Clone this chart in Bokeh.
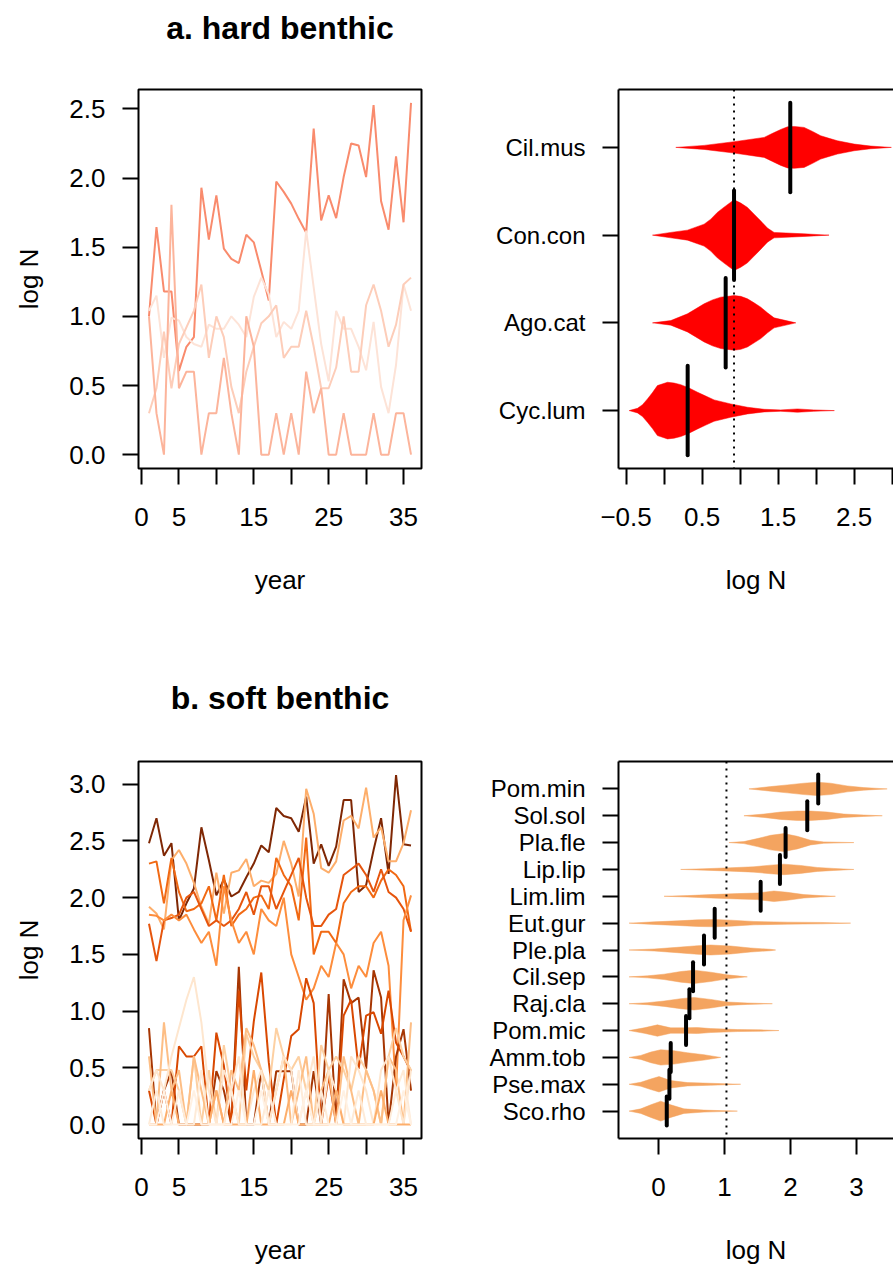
from bokeh.plotting import figure
from bokeh.layouts import column, row
from bokeh.models import FixedTicker, Range1d, LinearAxis, Span
from bokeh.embed import file_html
from bokeh.resources import INLINE

FONT = "Liberation Sans"

# ---------------- data: hard benthic time series ----------------
years = list(range(1, 37))
hard_names = ["Cil.mus", "Con.con", "Ago.cat", "Cyc.lum"]
hard_colors = ["#F98B6D", "#FDE3D7", "#FDCDB9", "#FCB49B"]
hard_cilmus = [1.0, 1.645, 1.18, 1.18, 0.606, 0.78, 0.85, 1.93, 1.555, 1.875, 1.49, 1.415,
               1.385, 1.59, 1.535, 1.33, 1.115, 1.975, 1.9, 1.815, 1.705, 1.605, 2.357, 1.693,
               1.875, 1.71, 2.007, 2.25, 2.235, 2.007, 2.527, 1.833, 1.626, 2.157, 1.68, 2.543]
hard_concon = [1.04, 1.15, 0.70, 0.99, 0.97, 0.85, 0.80, 0.78, 0.94, 0.91, 0.91, 1.0,
               0.94, 0.85, 1.14, 1.28, 1.16, 0.85, 0.96, 0.91, 1.04, 1.62, 1.21, 0.80,
               0.53, 1.04, 0.91, 0.91, 0.78, 0.61, 0.96, 0.49, 0.30, 0.65, 1.23, 1.04]
hard_agocat = [0.30, 0.48, 0.89, 0.48, 0.80, 0.92, 1.04, 1.23, 0.70, 1.0, 0.85, 0.49,
               0.30, 0.60, 0.78, 0.95, 1.0, 1.08, 0.70, 0.78, 0.78, 1.04, 0.78, 0.48,
               0.48, 0.63, 1.0, 0.60, 0.60, 1.08, 1.23, 1.04, 0.78, 0.94, 1.23, 1.28]
hard_cyclum = [1.0, 0.30, 0.0, 1.806, 0.48, 0.60, 0.60, 0.0, 0.30, 0.30, 0.70, 0.30,
               0.0, 1.0, 0.78, 0.0, 0.0, 0.30, 0.0, 0.30, 0.0, 0.60, 0.30, 0.48,
               0.0, 0.0, 0.30, 0.0, 0.0, 0.0, 0.30, 0.0, 0.0, 0.30, 0.30, 0.0]
hard_series = [hard_cilmus, hard_concon, hard_agocat, hard_cyclum]

# ---------------- data: soft benthic time series ----------------
soft_names = ["Pom.min", "Sol.sol", "Pla.fle", "Lip.lip", "Lim.lim", "Eut.gur", "Ple.pla",
              "Cil.sep", "Raj.cla", "Pom.mic", "Amm.tob", "Pse.max", "Sco.rho"]
soft_colors = ["#7F2704", "#FDAE6B", "#F16913", "#E6550D", "#FD8D3C", "#A63603", "#D94801",
               "#FDD0A2", "#FDBE85", "#FEE6CE", "#FDAE6B", "#FEEBD8", "#FFF1E3"]
soft_pommin = [2.48, 2.70, 2.37, 2.48, 1.80, 1.95, 2.08, 2.62, 2.33, 2.02, 2.16, 2.01,
               2.05, 2.18, 2.30, 2.46, 2.40, 2.79, 2.72, 2.70, 2.58, 2.89, 2.30, 2.47,
               2.28, 2.45, 2.86, 2.86, 2.05, 2.11, 2.42, 2.70, 2.21, 3.08, 2.47, 2.46]
soft_solsol = [1.92, 1.86, 1.72, 2.33, 2.42, 2.30, 2.13, 1.92, 1.77, 2.22, 1.86, 2.22,
               2.24, 2.34, 2.10, 2.15, 2.13, 2.21, 2.50, 2.30, 2.01, 2.96, 2.74, 2.26,
               2.22, 2.32, 2.68, 2.72, 2.61, 2.97, 2.53, 2.62, 2.32, 2.32, 2.48, 2.77]
soft_plafle = [2.30, 2.32, 1.95, 2.35, 2.05, 1.88, 1.90, 1.95, 2.10, 1.80, 2.20, 1.75,
               1.85, 1.90, 2.00, 2.02, 1.90, 2.35, 2.20, 2.10, 1.80, 2.53, 1.50, 1.70,
               1.70, 1.60, 1.95, 2.05, 2.10, 2.10, 2.00, 2.15, 2.25, 2.20, 2.10, 1.70]
soft_liplip = [1.77, 1.44, 1.80, 1.82, 1.85, 2.00, 2.05, 1.90, 1.75, 1.80, 1.75, 1.80,
               1.90, 2.05, 1.85, 2.10, 2.10, 1.90, 2.05, 2.20, 2.35, 2.00, 1.75, 1.75,
               1.85, 1.90, 2.20, 2.25, 2.30, 2.20, 2.05, 2.25, 2.05, 2.00, 1.90, 1.70]
soft_limlim = [1.85, 1.84, 1.80, 1.85, 1.80, 1.85, 1.72, 1.60, 1.70, 1.40, 2.10, 1.80,
               1.60, 1.70, 1.50, 1.90, 1.80, 1.75, 2.00, 1.50, 1.30, 1.10, 1.20, 1.40,
               1.30, 1.60, 1.50, 1.20, 1.40, 1.30, 1.60, 1.70, 1.40, 0.30, 1.80, 2.02]
soft_eutgur = [0.85, 0.0, 0.30, 0.47, 0.0, 0.0, 0.0, 0.0, 0.0, 0.47, 0.30, 0.0,
               1.39, 0.0, 0.0, 0.47, 0.0, 0.47, 0.47, 0.47, 0.0, 0.0, 0.47, 0.0,
               1.15, 0.0, 1.28, 1.07, 1.12, 0.49, 1.36, 1.12, 0.0, 0.60, 0.84, 0.30]
soft_plepla = [0.30, 0.0, 0.30, 0.0, 0.69, 0.60, 0.60, 0.69, 0.0, 0.81, 0.52, 0.0,
               1.18, 0.30, 0.91, 1.34, 0.55, 0.0, 0.40, 0.78, 0.84, 1.29, 1.07, 0.0,
               0.43, 0.0, 0.96, 1.10, 0.49, 0.96, 0.99, 0.80, 1.18, 0.72, 0.60, 0.47]
soft_cilsep = [0.30, 0.48, 0.48, 0.48, 0.30, 0.0, 0.60, 0.0, 0.48, 0.0, 0.70, 0.30,
               0.0, 0.80, 0.60, 0.48, 0.30, 0.85, 0.60, 0.48, 0.60, 0.30, 0.0, 0.70,
               0.48, 0.60, 0.48, 0.30, 0.60, 0.48, 0.30, 0.0, 0.60, 0.85, 0.60, 0.48]
soft_rajcla = [0.60, 0.0, 0.90, 0.30, 0.48, 0.0, 0.60, 0.30, 0.0, 0.30, 0.0, 0.48,
               0.30, 0.85, 0.70, 0.48, 0.0, 0.30, 0.60, 0.0, 0.30, 0.60, 0.0, 0.30,
               0.48, 0.0, 0.60, 0.30, 0.0, 0.48, 0.30, 0.0, 0.60, 0.48, 0.0, 0.90]
soft_pommic = [0.30, 0.48, 0.30, 0.60, 0.85, 1.10, 1.30, 0.90, 0.30, 0.0, 0.48, 0.30,
               0.60, 0.0, 0.30, 0.48, 0.0, 0.30, 0.60, 0.48, 0.0, 0.30, 0.60, 0.0,
               0.48, 0.30, 0.0, 0.60, 0.48, 0.30, 0.0, 0.48, 0.60, 0.30, 0.0, 0.48]
soft_ammtob = [0.0, 0.0, 0.0, 0.30, 0.0, 0.0, 0.0, 0.0, 0.0, 0.30, 0.0, 0.0,
               0.0, 0.0, 0.48, 0.0, 0.0, 0.0, 0.0, 0.30, 0.0, 0.0, 0.0, 0.0,
               0.0, 0.30, 0.0, 0.0, 0.0, 0.0, 0.0, 0.30, 0.0, 0.0, 0.0, 0.0]
soft_psemax = [0.0, 0.30, 0.0, 0.0, 0.30, 0.0, 0.0, 0.48, 0.0, 0.0, 0.0, 0.30,
               0.0, 0.0, 0.0, 0.0, 0.30, 0.0, 0.0, 0.0, 0.48, 0.0, 0.0, 0.30,
               0.0, 0.0, 0.0, 0.0, 0.30, 0.0, 0.0, 0.0, 0.0, 0.30, 0.48, 0.0]
soft_scorho = [0.0, 0.0, 0.30, 0.0, 0.0, 0.0, 0.30, 0.0, 0.0, 0.0, 0.0, 0.0,
               0.30, 0.0, 0.0, 0.30, 0.0, 0.0, 0.0, 0.0, 0.0, 0.30, 0.0, 0.0,
               0.0, 0.0, 0.30, 0.0, 0.0, 0.0, 0.0, 0.0, 0.0, 0.0, 0.30, 0.0]
soft_series = [soft_pommin, soft_solsol, soft_plafle, soft_liplip, soft_limlim, soft_eutgur,
               soft_plepla, soft_cilsep, soft_rajcla, soft_pommic, soft_ammtob, soft_psemax,
               soft_scorho]

# ---------------- data: violins (x along log N, half-width in row units) ----------------
hard_medians = [1.66, 0.92, 0.81, 0.31]
hard_ref_line = 0.92
hard_vx = [
    [0.154, 0.526, 0.921, 1.316, 1.426, 1.535, 1.624, 1.711, 1.842, 1.953, 2.06, 2.171,
     2.28, 2.50, 2.72, 2.99],
    [-0.153, 0.088, 0.307, 0.526, 0.614, 0.70, 0.789, 0.92, 1.009, 1.097, 1.184, 1.27,
     1.36, 1.447, 1.84, 2.17],
    [-0.153, 0.088, 0.307, 0.417, 0.526, 0.636, 0.746, 0.921, 1.009, 1.097, 1.184, 1.272,
     1.36, 1.447, 1.733],
    [-0.46, -0.35, -0.284, -0.219, -0.153, -0.088, 0.045, 0.132, 0.219, 0.329, 0.44, 0.549,
     0.658, 0.877, 1.097, 1.316, 1.535, 1.755, 1.97, 2.24],
]
hard_vw = [
    [0, 0.023, 0.065, 0.114, 0.16, 0.205, 0.234, 0.239, 0.228, 0.182, 0.133, 0.103,
     0.076, 0.038, 0.015, 0],
    [0, 0.031, 0.057, 0.125, 0.182, 0.259, 0.319, 0.403, 0.365, 0.316, 0.239, 0.163,
     0.08, 0.031, 0.015, 0],
    [0, 0.026, 0.103, 0.16, 0.217, 0.262, 0.293, 0.311, 0.302, 0.274, 0.228, 0.179,
     0.114, 0.057, 0],
    [0, 0.026, 0.068, 0.133, 0.205, 0.285, 0.323, 0.314, 0.296, 0.257, 0.209, 0.165,
     0.122, 0.076, 0.038, 0.015, 0.008, 0.019, 0.008, 0],
]

soft_medians = [2.42, 2.254, 1.926, 1.84, 1.548, 0.852, 0.69, 0.524, 0.469, 0.418,
                0.186, 0.166, 0.126]
soft_ref_line = 1.03
soft_vx = [
    [1.371, 1.699, 1.951, 2.203, 2.405, 2.607, 2.859, 3.11, 3.464],
    [1.295, 1.598, 1.85, 2.103, 2.304, 2.557, 2.808, 3.11, 3.39],
    [1.068, 1.295, 1.497, 1.699, 1.9, 2.103, 2.304, 2.505, 2.96],
    [0.337, 0.69, 1.094, 1.446, 1.699, 1.9, 2.153, 2.405, 2.657, 2.96],
    [0.085, 0.438, 0.791, 1.195, 1.497, 1.749, 1.951, 2.203, 2.455, 2.68],
    [-0.445, -0.066, 0.287, 0.59, 0.841, 1.094, 1.446, 1.951, 2.455, 2.91],
    [-0.445, -0.066, 0.287, 0.59, 0.791, 1.094, 1.396, 1.699, 1.775],
    [-0.445, -0.166, 0.085, 0.337, 0.539, 0.791, 1.044, 1.346],
    [-0.445, -0.166, 0.085, 0.337, 0.539, 0.791, 1.044, 1.346, 1.725],
    [-0.445, -0.217, -0.015, 0.186, 0.387, 0.59, 0.791, 1.195, 1.548, 1.825],
    [-0.445, -0.268, -0.116, 0.035, 0.236, 0.438, 0.69, 0.943],
    [-0.445, -0.268, -0.116, 0.009, 0.186, 0.438, 0.791, 1.245],
    [-0.445, -0.268, -0.116, 0.035, 0.186, 0.387, 0.69, 1.195],
]
soft_vw = [
    [0, 0.085, 0.148, 0.212, 0.249, 0.212, 0.111, 0.048, 0],
    [0, 0.063, 0.137, 0.174, 0.174, 0.137, 0.063, 0.026, 0],
    [0, 0.037, 0.148, 0.271, 0.334, 0.234, 0.085, 0.026, 0],
    [0, 0.026, 0.063, 0.1, 0.16, 0.197, 0.148, 0.074, 0.037, 0],
    [0, 0.026, 0.063, 0.1, 0.122, 0.197, 0.148, 0.063, 0.026, 0],
    [0, 0.048, 0.085, 0.122, 0.137, 0.111, 0.063, 0.037, 0.026, 0],
    [0, 0.037, 0.1, 0.16, 0.186, 0.148, 0.074, 0.026, 0],
    [0, 0.037, 0.1, 0.197, 0.249, 0.174, 0.074, 0],
    [0, 0.037, 0.1, 0.186, 0.234, 0.16, 0.063, 0.026, 0],
    [0, 0.1, 0.212, 0.1, 0.1, 0.111, 0.074, 0.037, 0.026, 0],
    [0, 0.074, 0.197, 0.286, 0.249, 0.174, 0.1, 0],
    [0, 0.074, 0.197, 0.286, 0.137, 0.063, 0.037, 0],
    [0, 0.085, 0.234, 0.371, 0.234, 0.085, 0.037, 0],
]

year_ticks = [0, 5, 10, 15, 20, 25, 30, 35]
year_hidden = [10, 20, 30]


def style_axis(ax, label_standoff, title_standoff, label_size="26px"):
    ax.major_tick_out = 16
    ax.major_tick_in = 0
    ax.minor_tick_out = 0
    ax.minor_tick_in = 0
    ax.major_tick_line_width = 2
    ax.major_tick_line_color = "black"
    ax.major_label_text_font = FONT
    ax.major_label_text_font_size = label_size
    ax.major_label_text_color = "black"
    ax.major_label_standoff = label_standoff
    ax.axis_label_text_font = FONT
    ax.axis_label_text_font_size = "26px"
    ax.axis_label_text_font_style = "normal"
    ax.axis_label_text_color = "black"
    ax.axis_label_standoff = title_standoff


def make_fig(width, height, left, right, top, bottom, xr, yr, boxed):
    p = figure(width=width, height=height, x_range=Range1d(*xr), y_range=Range1d(*yr),
               output_backend="svg", toolbar_location=None,
               min_border_left=left, min_border_right=right,
               min_border_top=top, min_border_bottom=bottom)
    p.xgrid.visible = False
    p.ygrid.visible = False
    p.background_fill_color = "white"
    p.border_fill_color = "white"
    xax = p.below[0]
    yax = p.left[0]
    style_axis(xax, 23, 36)
    style_axis(yax, 17, 22)
    if boxed:
        p.outline_line_color = "black"
        p.outline_line_width = 2
        xax.axis_line_color = None
        yax.axis_line_color = None
    else:
        p.outline_line_color = None
        xax.axis_line_width = 2
        xax.axis_line_color = "black"
        yax.axis_line_width = 2
        yax.axis_line_color = "black"
        top_ax = LinearAxis(ticker=FixedTicker(ticks=[]), major_tick_out=0, major_tick_in=0,
                            minor_tick_out=0, minor_tick_in=0, major_label_standoff=0,
                            axis_line_width=2, axis_line_color="black")
        p.add_layout(top_ax, "above")
    return p, xax, yax


def ts_panel(title, series, colors, yr, yticks, height, top, bottom, title_gap):
    p, xax, yax = make_fig(460, height, 138, 39, top, bottom, (-0.4, 37.4), yr, True)
    for s, c in zip(series, colors):
        p.line(years, s, line_color=c, line_width=2)
    xax.ticker = FixedTicker(ticks=year_ticks)
    xax.major_label_overrides = {t: "" for t in year_hidden}
    xax.axis_label = "year"
    yax.ticker = FixedTicker(ticks=yticks)
    yax.major_label_overrides = {t: f"{t:.1f}" for t in yticks}
    yax.axis_label = "log N"
    # panel title, drawn as the label of a bare axis above the frame
    title_ax = LinearAxis(ticker=FixedTicker(ticks=[]), major_tick_out=0, major_tick_in=0,
                          minor_tick_out=0, minor_tick_in=0, major_label_standoff=0,
                          axis_line_color=None, axis_label=title,
                          axis_label_text_font=FONT, axis_label_text_font_size="32px",
                          axis_label_text_font_style="bold", axis_label_text_color="black",
                          axis_label_standoff=title_gap)
    p.add_layout(title_ax, "above")
    return p


def violin_panel(names, vx, vw, medians, ref, color, xr, xticks, xlabels, bar_half,
                 height, top, bottom, label_size):
    n = len(names)
    yr = (0.5 - 0.04 * n, n + 0.5 + 0.04 * n)
    p, xax, yax = make_fig(433, height, 158, 0, top, bottom, xr, yr, False)
    ref_span = Span(location=ref, dimension="height", line_color="black", line_width=2,
                    line_dash="2 5")
    p.add_layout(ref_span)
    for i in range(n):
        pos = n - i
        xs = list(vx[i]) + list(reversed(vx[i]))
        ys = [pos + w for w in vw[i]] + [pos - w for w in reversed(vw[i])]
        p.patch(xs, ys, fill_color=color, line_color=color, line_width=0.5)
        p.segment(x0=[medians[i]], y0=[pos - bar_half], x1=[medians[i]], y1=[pos + bar_half],
                  line_color="black", line_width=4, line_cap="round")
    yax.ticker = FixedTicker(ticks=list(range(1, n + 1)))
    yax.major_label_overrides = {n - i: names[i] for i in range(n)}
    yax.major_label_text_font_size = label_size
    xax.ticker = FixedTicker(ticks=xticks)
    xax.major_label_overrides = xlabels
    xax.axis_label = "log N"
    return p


TOP_H, BOT_H = 628, 639
pA = ts_panel("a. hard benthic", hard_series, hard_colors, (-0.1, 2.64),
              [0.0, 0.5, 1.0, 1.5, 2.0, 2.5], TOP_H, 89, 160, 44)
pB = violin_panel(hard_names, hard_vx, hard_vw, hard_medians, hard_ref_line, "#FF0000",
                  (-0.6, 3.018), [-0.5, 0, 0.5, 1, 1.5, 2, 2.5, 3],
                  {-0.5: "\u22120.5", 0: "", 0.5: "0.5", 1: "", 1.5: "1.5", 2: "", 2.5: "2.5", 3: ""},
                  0.51, TOP_H, 89, 160, "24px")
pC = ts_panel("b. soft benthic", soft_series, soft_colors, (-0.123, 3.2),
              [0.0, 0.5, 1.0, 1.5, 2.0, 2.5, 3.0], BOT_H, 133, 128, 46)
pD = violin_panel(soft_names, soft_vx, soft_vw, soft_medians, soft_ref_line, "#F4A460",
                  (-0.605, 3.56), [0, 1, 2, 3], {0: "0", 1: "1", 2: "2", 3: "3"},
                  0.54, BOT_H, 133, 128, "24px")

layout = column(row(pA, pB), row(pC, pD))
open("out.html", "w").write(file_html(layout, INLINE))
